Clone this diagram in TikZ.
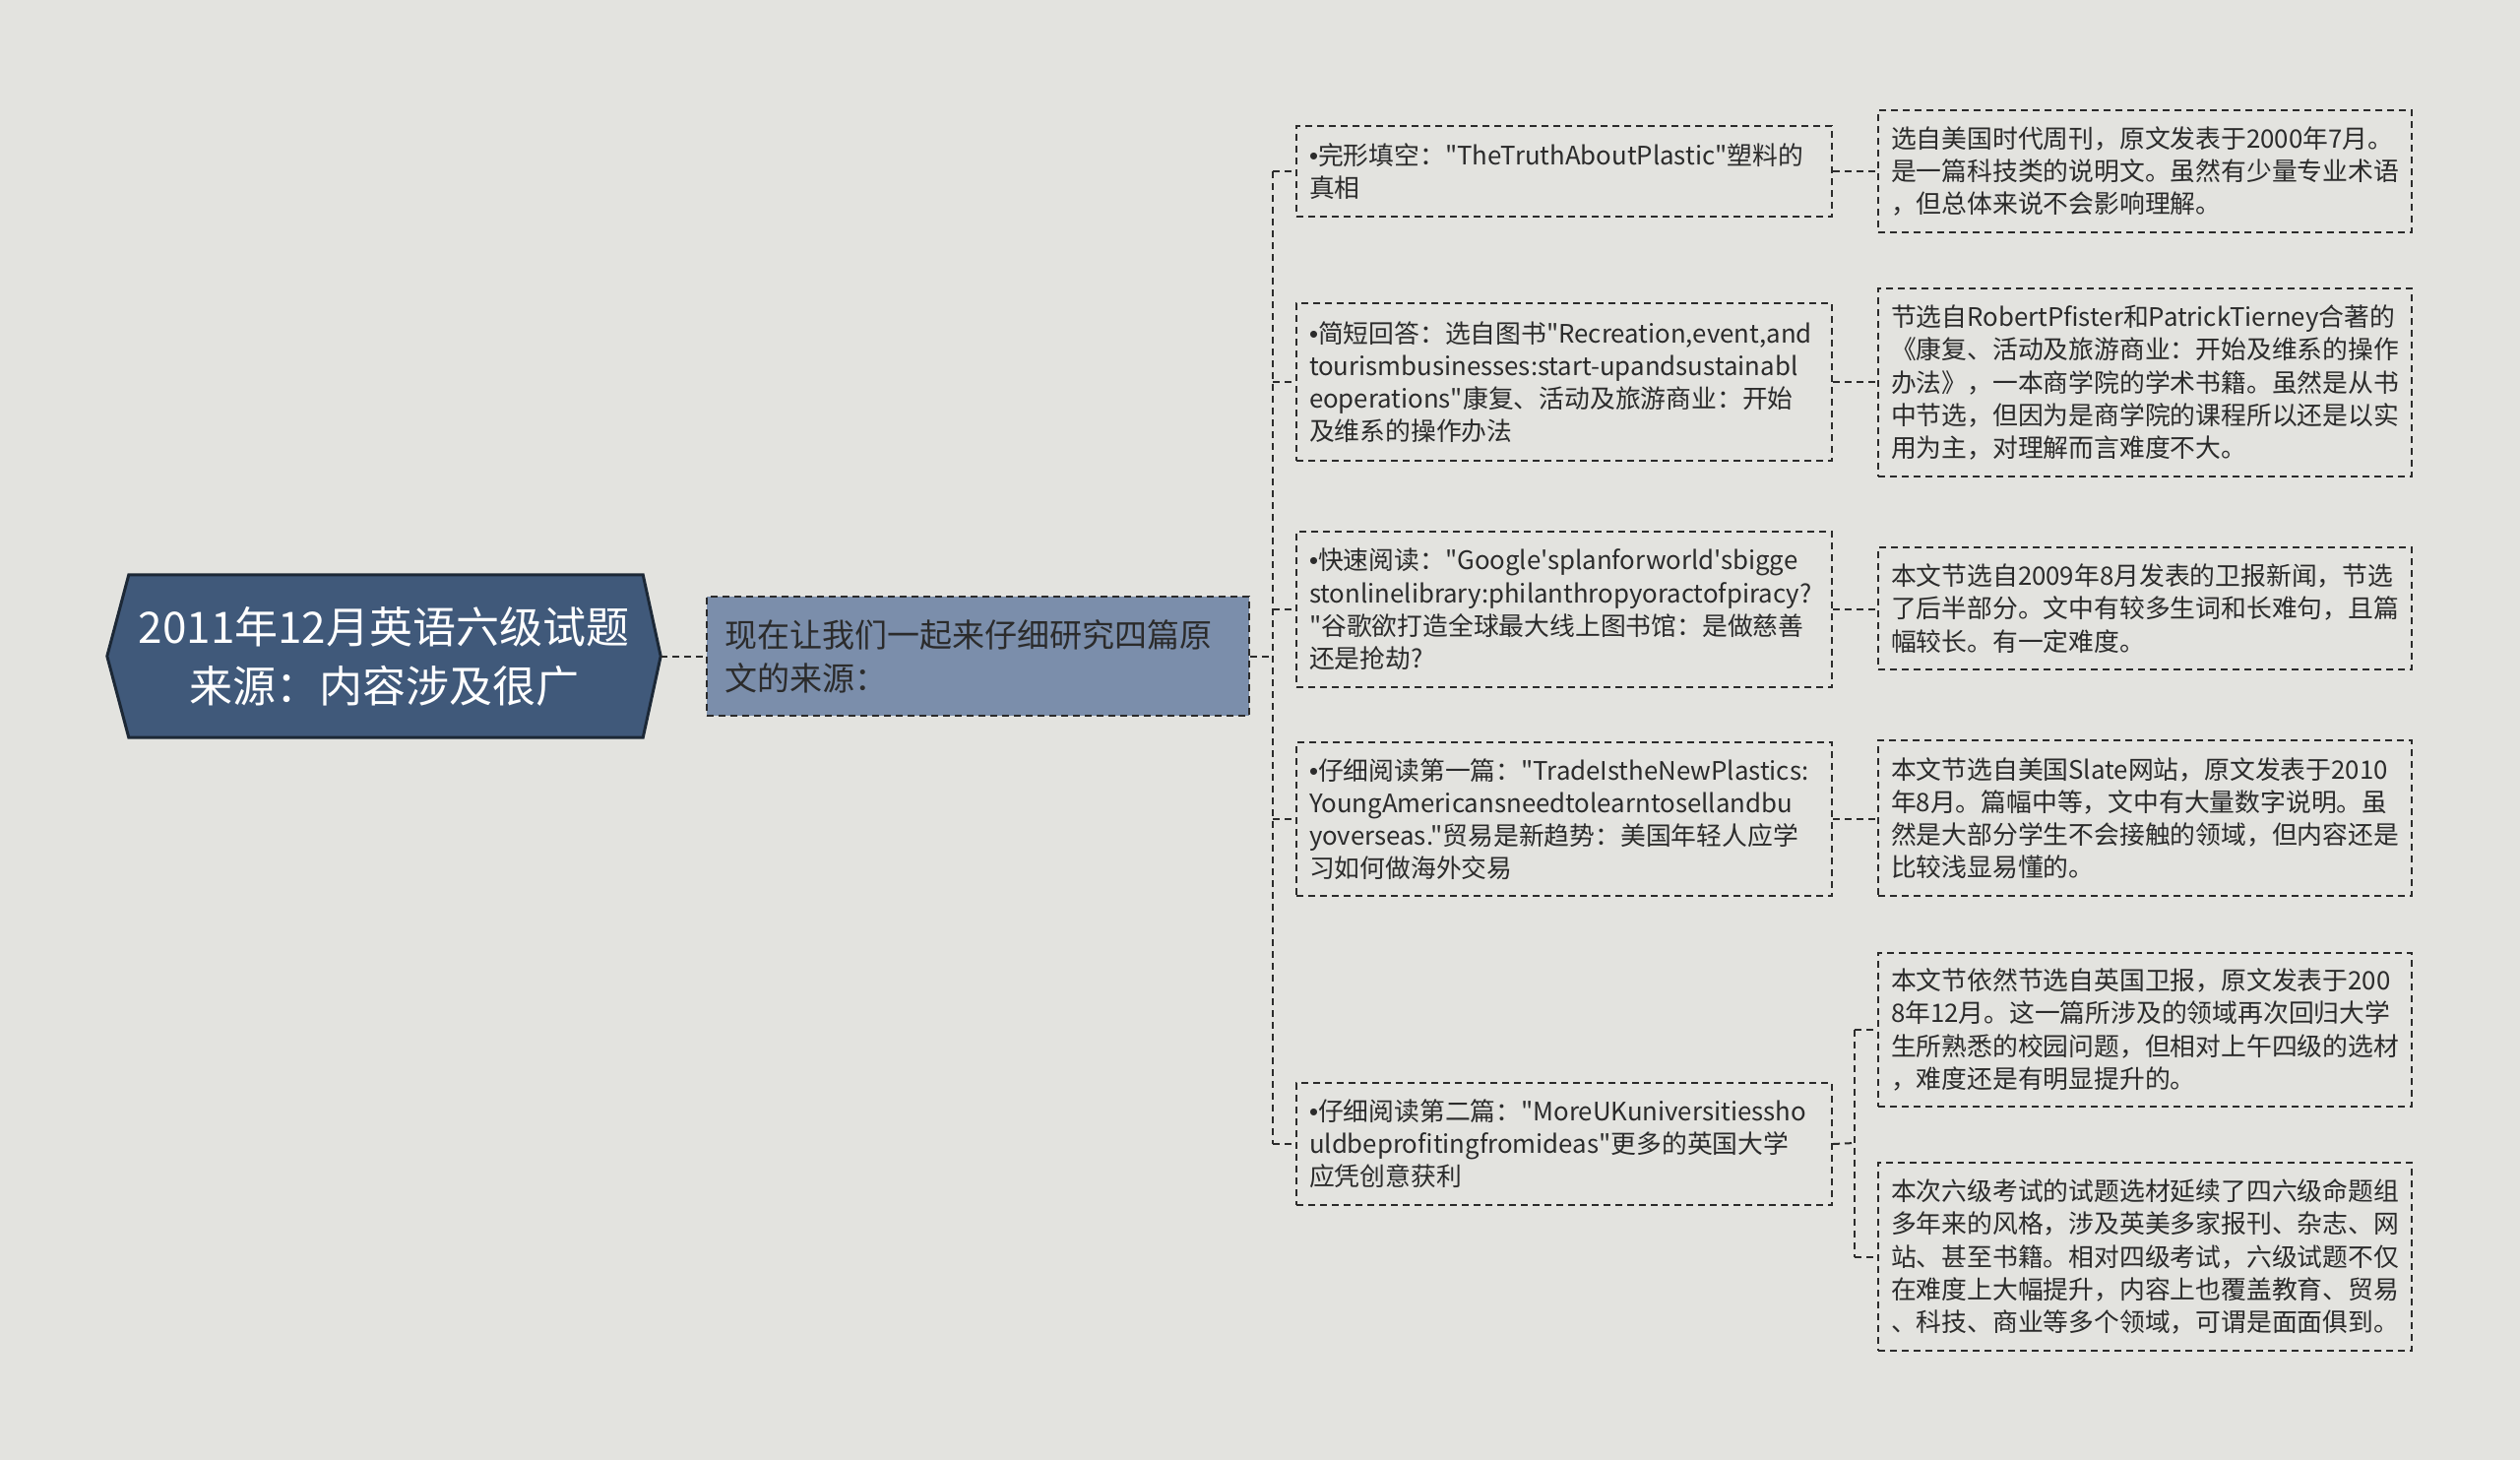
\documentclass[tikz,border=0pt]{standalone}
\usepackage{fontspec}
\newfontfamily\cjkf{Noto Sans CJK SC}[Ligatures=TeXOff]
\newfontfamily\latf{Liberation Sans}
\newcommand{\bul}{{\latf •}}
\usetikzlibrary{backgrounds}
\definecolor{bgc}{HTML}{E3E3DF}
\definecolor{rootfill}{HTML}{40597A}
\definecolor{rootline}{HTML}{1C2836}
\definecolor{midfill}{HTML}{7B8EAB}
\definecolor{ink}{HTML}{2B2B2B}
\begin{document}
\begin{tikzpicture}[x=1pt,y=-1pt,
  dashline/.style={draw=ink, line width=2pt, dash pattern=on 7pt off 5pt},
  conn/.style={dashline},
  leaf/.style={dashline, inner xsep=13pt, inner ysep=0pt, align=left,
    font=\cjkf\fontsize{25.8}{33.2}\selectfont, text=ink, anchor=north west},
  lvtwo/.style={leaf, text width=518pt, minimum width=544pt},
  lvthree/.style={leaf, text width=516pt, minimum width=542pt},
  rootbox/.style={inner sep=0pt, align=center, text=white, text width=540pt,
    minimum width=562pt, minimum height=165pt,
    font=\cjkf\fontsize{44}{60}\selectfont},
  midbox/.style={dashline, fill=midfill, inner xsep=18pt, inner ysep=0pt, align=left,
    text width=515pt, minimum width=551pt, minimum height=121pt, text=ink,
    font=\cjkf\fontsize{33}{44}\selectfont}
]
\useasboundingbox (0,0) rectangle (2560,1483);

\node[rootbox] (root) at (390,666.5) {2011年12月英语六级试题\\来源：内容涉及很广};
\node[midbox] (mid) at (993.5,666.5) {现在让我们一起来仔细研究四篇原\\文的来源：};

\node[lvtwo, minimum height=92pt] (a1) at (1316,127) {\bul 完形填空："TheTruthAboutPlastic"塑料的\\真相};
\node[lvtwo, minimum height=160pt] (a2) at (1316,307) {\bul 简短回答：选自图书"Recreation,event,and\\tourismbusinesses:start-upandsustainabl\\eoperations"康复、活动及旅游商业：开始\\及维系的操作办法};
\node[lvtwo, minimum height=158pt] (a3) at (1316,539) {\bul 快速阅读："Google'splanforworld'sbigge\\stonlinelibrary:philanthropyoractofpiracy?\\"谷歌欲打造全球最大线上图书馆：是做慈善\\还是抢劫?};
\node[lvtwo, minimum height=156pt] (a4) at (1316,753) {\bul 仔细阅读第一篇："TradeIstheNewPlastics:\\YoungAmericansneedtolearntosellandbu\\yoverseas."贸易是新趋势：美国年轻人应学\\习如何做海外交易};
\node[lvtwo, minimum height=124pt] (a5) at (1316,1099) {\bul 仔细阅读第二篇："MoreUKuniversitiessho\\uldbeprofitingfromideas"更多的英国大学\\应凭创意获利};

\node[lvthree, minimum height=124pt] (b1) at (1907,111) {选自美国时代周刊，原文发表于2000年7月。\\是一篇科技类的说明文。虽然有少量专业术语\\，但总体来说不会影响理解。};
\node[lvthree, minimum height=191pt] (b2) at (1907,292) {节选自RobertPfister和PatrickTierney合著的\\《康复、活动及旅游商业：开始及维系的操作\\办法》，一本商学院的学术书籍。虽然是从书\\中节选，但因为是商学院的课程所以还是以实\\用为主，对理解而言难度不大。};
\node[lvthree, minimum height=124pt] (b3) at (1907,555) {本文节选自2009年8月发表的卫报新闻，节选\\了后半部分。文中有较多生词和长难句，且篇\\幅较长。有一定难度。};
\node[lvthree, minimum height=158pt] (b4) at (1907,751) {本文节选自美国Slate网站，原文发表于2010\\年8月。篇幅中等，文中有大量数字说明。虽\\然是大部分学生不会接触的领域，但内容还是\\比较浅显易懂的。};
\node[lvthree, minimum height=156pt] (b5) at (1907,967) {本文节依然节选自英国卫报，原文发表于200\\8年12月。这一篇所涉及的领域再次回归大学\\生所熟悉的校园问题，但相对上午四级的选材\\，难度还是有明显提升的。};
\node[lvthree, minimum height=191pt] (b6) at (1907,1180) {本次六级考试的试题选材延续了四六级命题组\\多年来的风格，涉及英美多家报刊、杂志、网\\站、甚至书籍。相对四级考试，六级试题不仅\\在难度上大幅提升，内容上也覆盖教育、贸易\\、科技、商业等多个领域，可谓是面面俱到。};

% connectors
\draw[conn] (root.east) -- (mid.west);
\coordinate (tr) at (1293,666.5);
\draw[conn] (mid.east) -- (tr);
\draw[conn] (tr |- a1.west) -- (tr |- a5.west);
\foreach \n in {a1,a2,a3,a4,a5} { \draw[conn] (tr |- \n.west) -- (\n.west); }
\draw[conn] (a1.east) -- (b1.west |- a1.east);
\draw[conn] (a2.east) -- (b2.west |- a2.east);
\draw[conn] (a3.east) -- (b3.west |- a3.east);
\draw[conn] (a4.east) -- (b4.west |- a4.east);
\coordinate (fk) at (1884,1161);
\draw[conn] (a5.east) -- (fk);
\draw[conn] (fk |- b5.west) -- (fk |- b6.west);
\draw[conn] (fk |- b5.west) -- (b5.west);
\draw[conn] (fk |- b6.west) -- (b6.west);

\begin{scope}[on background layer]
\fill[bgc] (0,0) rectangle (2560,1483);
\filldraw[fill=rootfill, draw=rootline, line width=3pt]
  (root.west) -- ([xshift=22pt]root.north west) -- ([xshift=-18pt]root.north east)
  -- (root.east) -- ([xshift=-18pt]root.south east) -- ([xshift=22pt]root.south west) -- cycle;
\end{scope}
\end{tikzpicture}
\end{document}
